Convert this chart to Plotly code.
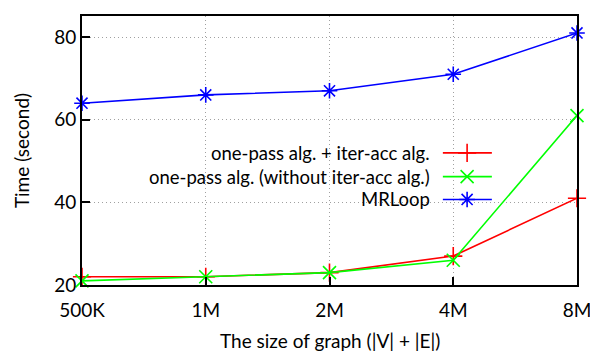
import plotly.graph_objects as go

categories = ["500K", "1M", "2M", "4M", "8M"]
onepass_iteracc = [22, 22, 23, 27, 41]
onepass_only = [21, 22, 23, 26, 61]
mrloop = [64, 66, 67, 71, 81]
series_names = [
    "one-pass alg. + iter-acc alg.",
    "one-pass alg. (without iter-acc alg.)",
    "MRLoop",
]
y_ticks = [20, 40, 60, 80]
x_title = "The size of graph (|V| + |E|)"
y_title = "Time (second)"

FONT = "Lato"
colors = ["#ff0000", "#00ff00", "#0000ff"]
symbols = ["cross-thin", "x-thin", "asterisk"]
data = [onepass_iteracc, onepass_only, mrloop]

fig = go.Figure()
for name, vals, c, s in zip(series_names, data, colors, symbols):
    fig.add_trace(go.Scatter(
        x=categories, y=vals, mode="lines+markers", name=name,
        line=dict(color=c, width=1.6),
        marker=dict(symbol=s, size=13, color=c, line=dict(color=c, width=1.6)),
        cliponaxis=False, showlegend=False,
    ))

# custom legend (text right-aligned, sample on the right) in an overlay axis
leg_y = [0.491, 0.403, 0.318]
for name, c, s, yy in zip(series_names, colors, symbols, leg_y):
    fig.add_trace(go.Scatter(
        x=[0.729, 0.778, 0.828], y=[yy, yy, yy], mode="lines",
        line=dict(color=c, width=1.6), xaxis="x2", yaxis="y2", showlegend=False,
        hoverinfo="skip",
    ))
    fig.add_trace(go.Scatter(
        x=[0.778], y=[yy], mode="markers",
        marker=dict(symbol=s, size=13, color=c, line=dict(color=c, width=1.6)),
        xaxis="x2", yaxis="y2", showlegend=False, hoverinfo="skip",
    ))
    fig.add_annotation(
        x=0.707, y=yy, xref="paper", yref="paper", text=name, showarrow=False,
        xanchor="right", yanchor="middle", font=dict(family=FONT, size=18.5, color="black"),
    )

fig.add_shape(type="rect", xref="paper", yref="paper", x0=0.02, x1=0.845, y0=0.27, y1=0.54,
              fillcolor="white", line=dict(width=0), layer="between")

# axis titles
fig.add_annotation(x=0.5, y=-0.205, xref="paper", yref="paper", text=x_title, showarrow=False,
                   xanchor="center", yanchor="middle", font=dict(family=FONT, size=19))
fig.add_annotation(x=-0.122, y=0.5, xref="paper", yref="paper", text=y_title, showarrow=False,
                   textangle=-90, xanchor="center", yanchor="middle", font=dict(family=FONT, size=19))

GRID = dict(showgrid=True, gridcolor="#a0a0a0", griddash="1px,3px", gridwidth=1)

fig.update_layout(
    width=590, height=354,
    margin=dict(l=82, r=13, t=16, b=69, autoexpand=False),
    paper_bgcolor="white", plot_bgcolor="white",
    font=dict(family=FONT, size=19, color="black"),
    xaxis=dict(
        type="category", range=[0, 4], **GRID,
        ticks="inside", ticklen=8, tickwidth=1.5, tickcolor="black",
        showline=True, linecolor="black", linewidth=2, mirror=True, zeroline=False,
        tickfont=dict(size=19), automargin=False, ticklabelstandoff=7,
    ),
    yaxis=dict(
        range=[20, 85.1], tickvals=y_ticks, **GRID,
        ticks="inside", ticklen=8, tickwidth=1.5, tickcolor="black",
        showline=True, linecolor="black", linewidth=2, mirror=True, zeroline=False,
        tickfont=dict(size=19), automargin=False,
    ),
    xaxis2=dict(overlaying="x", range=[0, 1], visible=False, fixedrange=True),
    yaxis2=dict(overlaying="y", range=[0, 1], visible=False, fixedrange=True),
)

fig.write_html(
    "out.html",
    config={"displayModeBar": False},
    post_script="document.body.style.margin='0';document.body.style.overflow='hidden';",
)
